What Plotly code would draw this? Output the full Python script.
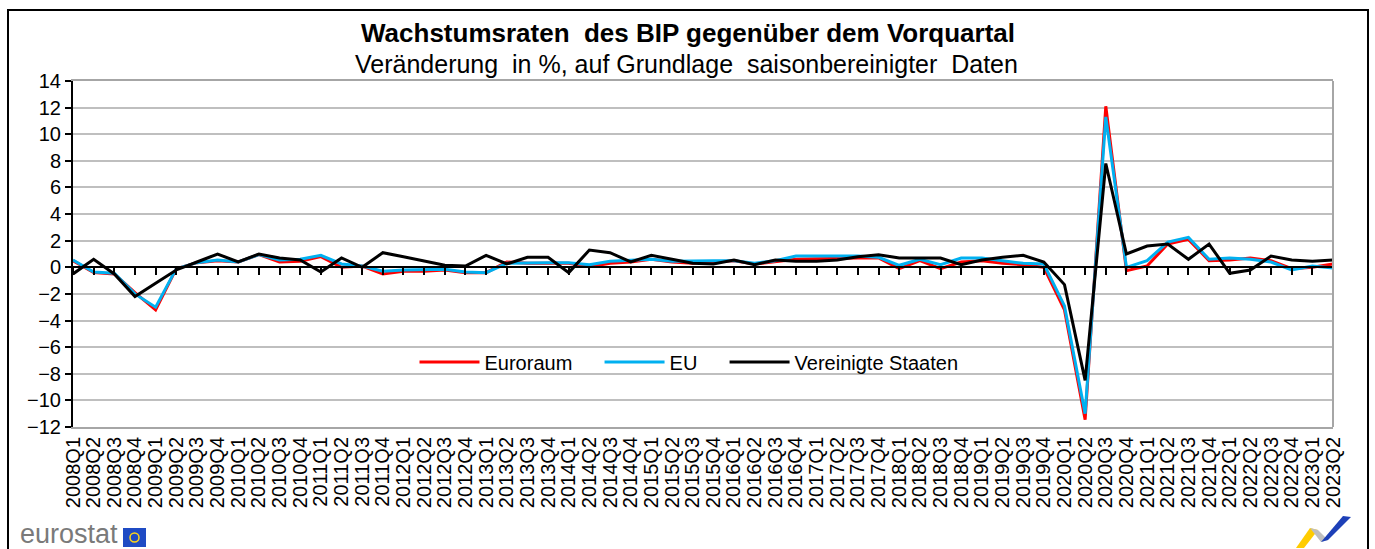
import plotly.graph_objects as go

quarters = [
    "2008Q1", "2008Q2", "2008Q3", "2008Q4", "2009Q1", "2009Q2", "2009Q3", "2009Q4",
    "2010Q1", "2010Q2", "2010Q3", "2010Q4", "2011Q1", "2011Q2", "2011Q3", "2011Q4",
    "2012Q1", "2012Q2", "2012Q3", "2012Q4", "2013Q1", "2013Q2", "2013Q3", "2013Q4",
    "2014Q1", "2014Q2", "2014Q3", "2014Q4", "2015Q1", "2015Q2", "2015Q3", "2015Q4",
    "2016Q1", "2016Q2", "2016Q3", "2016Q4", "2017Q1", "2017Q2", "2017Q3", "2017Q4",
    "2018Q1", "2018Q2", "2018Q3", "2018Q4", "2019Q1", "2019Q2", "2019Q3", "2019Q4",
    "2020Q1", "2020Q2", "2020Q3", "2020Q4", "2021Q1", "2021Q2", "2021Q3", "2021Q4",
    "2022Q1", "2022Q2", "2022Q3", "2022Q4", "2023Q1", "2023Q2",
]

euroraum = [
    0.5, -0.4, -0.5, -1.9, -3.2, -0.1, 0.35, 0.5,
    0.4, 0.95, 0.4, 0.45, 0.8, 0.0, 0.1, -0.5,
    -0.3, -0.3, -0.2, -0.4, -0.4, 0.4, 0.3, 0.3,
    0.3, 0.05, 0.3, 0.4, 0.6, 0.4, 0.3, 0.4,
    0.5, 0.25, 0.4, 0.6, 0.65, 0.7, 0.7, 0.7,
    -0.1, 0.5, -0.1, 0.4, 0.5, 0.3, 0.2, 0.0,
    -3.2, -11.45, 12.1, -0.25, 0.1, 1.75, 2.1, 0.5,
    0.55, 0.7, 0.5, -0.1, 0.0, 0.25,
]

eu = [
    0.55, -0.35, -0.45, -2.0, -3.0, -0.1, 0.35, 0.55,
    0.4, 0.95, 0.55, 0.6, 0.9, 0.25, 0.1, -0.3,
    -0.2, -0.2, -0.15, -0.35, -0.4, 0.3, 0.35, 0.35,
    0.35, 0.2, 0.45, 0.5, 0.6, 0.45, 0.5, 0.5,
    0.5, 0.3, 0.5, 0.85, 0.85, 0.85, 0.85, 0.75,
    0.15, 0.6, 0.2, 0.7, 0.7, 0.5, 0.3, 0.25,
    -2.9, -11.0, 11.3, 0.0, 0.5, 1.9, 2.25, 0.6,
    0.7, 0.6, 0.4, -0.2, 0.1, -0.05,
]

usa = [
    -0.5, 0.6, -0.5, -2.2, -1.2, -0.2, 0.4, 1.0,
    0.4, 1.0, 0.7, 0.55, -0.35, 0.7, 0.0, 1.1,
    0.8, 0.5, 0.15, 0.1, 0.9, 0.25, 0.75, 0.75,
    -0.4, 1.3, 1.1, 0.4, 0.9, 0.6, 0.3, 0.25,
    0.55, 0.2, 0.55, 0.45, 0.45, 0.55, 0.8, 0.95,
    0.7, 0.7, 0.7, 0.2, 0.55, 0.75, 0.9, 0.4,
    -1.3, -8.5, 7.8, 1.0, 1.6, 1.75, 0.6, 1.75,
    -0.45, -0.2, 0.85, 0.55, 0.45, 0.55,
]

series_names = ["Euroraum", "EU", "Vereinigte Staaten"]
series_colors = ["#FF0000", "#00B0F0", "#000000"]
y_ticks = [14, 12, 10, 8, 6, 4, 2, 0, -2, -4, -6, -8, -10, -12]

title_text = "<b>Wachstumsraten  des BIP gegenüber dem Vorquartal</b>"
subtitle_text = "Veränderung  in %, auf Grundlage  saisonbereinigter  Daten"

FONT = "Liberation Sans, Arial, sans-serif"
W, H = 1375, 549
PL, PR, PT, PB = 73, 1333, 81, 427  # plot area in pixels
NB = "\u00a0"


def px(x):
    return (x - PL) / (PR - PL)


def py(y):
    return (PB - y) / (PB - PT)


fig = go.Figure()
for i, (name, vals, col) in enumerate(zip(series_names, [euroraum, eu, usa], series_colors)):
    label = name if i == len(series_names) - 1 else name + NB * 4
    fig.add_trace(go.Scatter(
        x=quarters, y=vals, name=label, mode="lines",
        line=dict(color=col, width=3), cliponaxis=True,
    ))

# invisible helper trace for the category axis drawn at y = 0
fig.add_trace(go.Scatter(x=quarters, y=[None] * len(quarters), xaxis="x2",
                         showlegend=False, hoverinfo="skip", mode="lines"))

ymin, ymax = min(y_ticks), max(y_ticks)

fig.update_layout(
    width=W, height=H, autosize=False,
    margin=dict(l=PL, r=W - PR, t=PT, b=H - PB, pad=0),
    paper_bgcolor="white", plot_bgcolor="white",
    font=dict(family=FONT, size=20, color="black"),
    showlegend=True,
    legend=dict(orientation="h", x=px(689), xanchor="center", y=py(362), yanchor="middle",
                font=dict(size=20, family=FONT), bgcolor="rgba(255,255,255,0)",
                itemwidth=60, tracegroupgap=0),
    xaxis=dict(
        type="category", range=[0, len(quarters) - 1], showgrid=False,
        showline=True, linecolor="#A6A6A6", linewidth=2, mirror=True,
        ticks="", tickangle=-90, tickfont=dict(size=20, family=FONT),
        tickmode="array", tickvals=quarters, ticktext=quarters,
        zeroline=False,
    ),
    xaxis2=dict(
        type="category", overlaying="x", anchor="free", position=(0 - ymin) / (ymax - ymin),
        range=[0, len(quarters) - 1], showgrid=False, showticklabels=False,
        showline=True, linecolor="black", linewidth=1.5,
        tickmode="array", tickvals=quarters,
        ticks="outside", ticklen=7, tickwidth=1.5, tickcolor="black", side="bottom",
    ),
    yaxis=dict(
        range=[ymin, ymax], tickvals=y_ticks, showgrid=True, gridcolor="#BFBFBF", gridwidth=2,
        zeroline=False, showline=True, linecolor="black", linewidth=2,
        ticks="outside", ticklen=6, tickwidth=1.5, tickcolor="black",
        tickfont=dict(size=20, family=FONT),
    ),
    annotations=[
        dict(text=title_text, x=px(687.5), y=py(33), xref="paper", yref="paper",
             xanchor="center", yanchor="middle", showarrow=False,
             font=dict(size=26, family=FONT, color="black")),
        dict(text=subtitle_text, x=px(686.5), y=py(64), xref="paper", yref="paper",
             xanchor="center", yanchor="middle", showarrow=False,
             font=dict(size=25, family=FONT, color="black")),
        dict(text="eurostat", x=px(18), y=py(534), xref="paper", yref="paper",
             xanchor="left", yanchor="middle", showarrow=False,
             font=dict(size=27, family=FONT, color="#7A7A7A")),
    ],
    shapes=[
        # outer frame
        dict(type="rect", xref="paper", yref="paper", x0=px(8), x1=px(1368), y0=py(10), y1=py(575),
             line=dict(color="black", width=2), fillcolor="rgba(0,0,0,0)", layer="above"),
        # right border of plot area
        dict(type="line", xref="paper", yref="paper", x0=1, x1=1, y0=0, y1=1,
             line=dict(color="#A6A6A6", width=2)),
        # EU flag
        dict(type="rect", xref="paper", yref="paper", x0=px(123), x1=px(146), y0=py(528), y1=py(547),
             line=dict(width=0), fillcolor="#1F4BC4"),
        dict(type="circle", xref="paper", yref="paper", x0=px(130), x1=px(139), y0=py(533), y1=py(542),
             line=dict(color="#FFD617", width=1.5), fillcolor="rgba(0,0,0,0)"),
        # bottom-right logo
        dict(type="path", xref="paper", yref="paper",
             path=f"M {px(1296)} {py(548)} L {px(1304)} {py(548)} L {px(1318)} {py(530)} L {px(1310)} {py(528)} Z",
             line=dict(width=0), fillcolor="#FFCC00"),
        dict(type="path", xref="paper", yref="paper",
             path=f"M {px(1310)} {py(528)} L {px(1318)} {py(530)} L {px(1328)} {py(540)} L {px(1321)} {py(542)} Z",
             line=dict(width=0), fillcolor="#BFBFBF"),
        dict(type="path", xref="paper", yref="paper",
             path=f"M {px(1321)} {py(542)} L {px(1328)} {py(540)} L {px(1351)} {py(517)} L {px(1343)} {py(516)} Z",
             line=dict(width=0), fillcolor="#1D40B8"),
    ],
)

fig.write_html("out.html", config={"displayModeBar": False},
               post_script="document.body.style.margin='0';")
